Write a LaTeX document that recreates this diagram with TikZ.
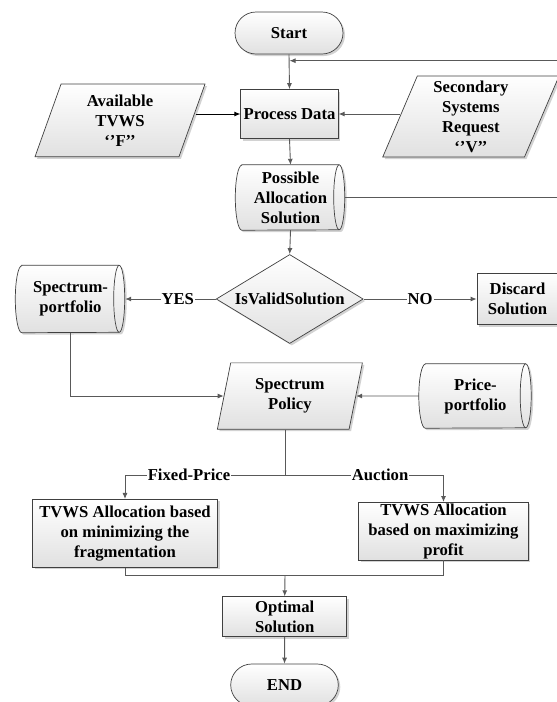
\documentclass[tikz,border=0pt]{standalone}
\usepackage{fontspec}
\setmainfont{Liberation Serif}
\usetikzlibrary{shapes.geometric,arrows.meta,backgrounds,shadows,calc}
\definecolor{edgecol}{HTML}{404040}
\definecolor{linecol}{HTML}{595959}
\tikzset{
  txt/.style={font=\bfseries\fontsize{16.67}{20}\selectfont, align=center, text=black, inner sep=0pt},
  shp/.style={txt, draw=edgecol, line width=0.7pt, top color=white, bottom color=black!12,
    drop shadow={shadow xshift=2pt,shadow yshift=-2pt,fill=black!25,opacity=0.7}},
  boxnode/.style={shp, rectangle},
  termnode/.style={shp, rectangle, rounded corners=21pt},
  paranode/.style={shp, trapezium, trapezium stretches body},
  decnode/.style={shp, diamond},
  cylbody/.style={txt, rectangle},
  conn/.style={draw=linecol, line width=0.9pt},
  arr/.style={conn, -{Latex[length=6pt,width=5pt]}},
  lbl/.style={txt, fill=white, inner xsep=1pt, inner ysep=1pt},
}
\newcommand\cylshape[2]{%
  \fill[black!25,opacity=0.7] ([shift={(2pt,-2pt)}]#1.north west) -- ([shift={(2pt,-2pt)}]#1.north east)
    arc[start angle=90,end angle=-90,x radius=5.5pt,y radius=#2]
    -- ([shift={(2pt,-2pt)}]#1.south west)
    arc[start angle=270,end angle=90,x radius=6.5pt,y radius=#2] -- cycle;
  \draw[draw=edgecol,line width=0.7pt,top color=white,bottom color=black!12]
    (#1.north west) -- (#1.north east)
    arc[start angle=90,end angle=-90,x radius=5.5pt,y radius=#2]
    -- (#1.south west)
    arc[start angle=270,end angle=90,x radius=6.5pt,y radius=#2] -- cycle;
  \draw[draw=edgecol,line width=0.7pt] (#1.north east)
    arc[start angle=90,end angle=270,x radius=5.5pt,y radius=#2];
}
\begin{document}
\begin{tikzpicture}[x=1pt,y=-1pt]
\useasboundingbox (0,0) rectangle (557,702);

% nodes
\node[termnode, minimum width=108pt, minimum height=42pt] (start) at (289,33) {Start};
\node[boxnode, minimum width=97.5pt, minimum height=49pt] (pd) at (289.5,114) {Process Data};
\node[paranode, trapezium left angle=63.2, trapezium right angle=116.8,
      minimum width=170pt, minimum height=72.7pt] (avail) at (120,120.4) {Available\\TVWS\\‘’F’’};
\node[paranode, trapezium left angle=64.3, trapezium right angle=115.7,
      minimum width=176.3pt, minimum height=81pt] (sec) at (470.9,116.5) {Secondary\\Systems\\Request\\‘’V’’};
\node[cylbody, minimum width=97pt, minimum height=65pt] (pas) at (290.5,197.5) {Possible\\Allocation\\Solution};
\node[decnode, aspect=1.65, minimum width=147pt, minimum height=89pt] (valid) at (289.7,299) {IsValidSolution};
\node[cylbody, minimum width=97pt, minimum height=67pt] (spp) at (70.5,299) {Spectrum-\\portfolio};
\node[boxnode, minimum width=81pt, minimum height=51pt] (discard) at (517.5,299) {Discard\\Solution};
\node[paranode, trapezium left angle=69, trapezium right angle=111,
      minimum width=145pt, minimum height=66.3pt] (sp) at (289.9,396) {Spectrum\\Policy};
\node[cylbody, minimum width=100pt, minimum height=64pt] (price) at (475.5,396) {Price-\\portfolio};
\node[boxnode, minimum width=185pt, minimum height=68pt] (fix) at (125,533.3) {TVWS Allocation based\\on minimizing the\\fragmentation};
\node[boxnode, minimum width=169.4pt, minimum height=57.7pt] (auc) at (443.5,531.2) {TVWS Allocation\\based on maximizing\\profit};
\node[boxnode, minimum width=124pt, minimum height=40pt] (opt) at (284.7,616.7) {Optimal\\Solution};
\node[termnode, minimum width=107.6pt, minimum height=42pt] (endn) at (284.5,685) {END};

\begin{pgfonlayer}{background}
  \cylshape{pas}{32.5pt}
  \cylshape{spp}{33.5pt}
  \cylshape{price}{32pt}
\end{pgfonlayer}

% connectors
\draw[arr] (start.south) -- (pd.north);
\coordinate (looptop) at (557,60.7);
\draw[arr] (looptop) -- (looptop -| pd.north);
\coordinate (availout) at ([xshift=3.2pt]avail.east);
\draw[arr,draw=black] (availout |- pd.west) -- (pd.west);
\draw[arr] (sec.west |- pd.east) -- (pd.east);
\draw[arr] (pd.south) -- (pas.north);
\coordinate (loopright) at (557,197.5);
\draw[conn] ([xshift=5.5pt]pas.east) -- (loopright);
\draw[arr] (pas.south) -- (valid.north);
\draw[arr] (valid.west) -- node[lbl,pos=0.42]{YES} ([xshift=6pt]spp.east);
\draw[arr] (valid.east) -- node[lbl]{NO} (discard.west);
\draw[arr] (spp.south) |- (sp.west);
\draw[arr] ([xshift=-6.5pt]price.west) -- (sp.east);
\coordinate (branch) at (285,475);
\draw[conn] (sp.south -| branch) -- (branch);
\draw[arr] (branch) -- node[lbl,pos=0.6]{Fixed-Price} (branch -| fix.north) -- (fix.north);
\draw[arr] (branch) -- node[lbl,pos=0.6]{Auction} (branch -| auc.north) -- (auc.north);
\coordinate (merge) at (285,575);
\draw[conn] (fix.south) |- (merge);
\draw[conn] (auc.south) |- (merge);
\draw[arr] (merge) -- (opt.north);
\draw[arr] (opt.south) -- (endn.north);
\end{tikzpicture}
\end{document}
